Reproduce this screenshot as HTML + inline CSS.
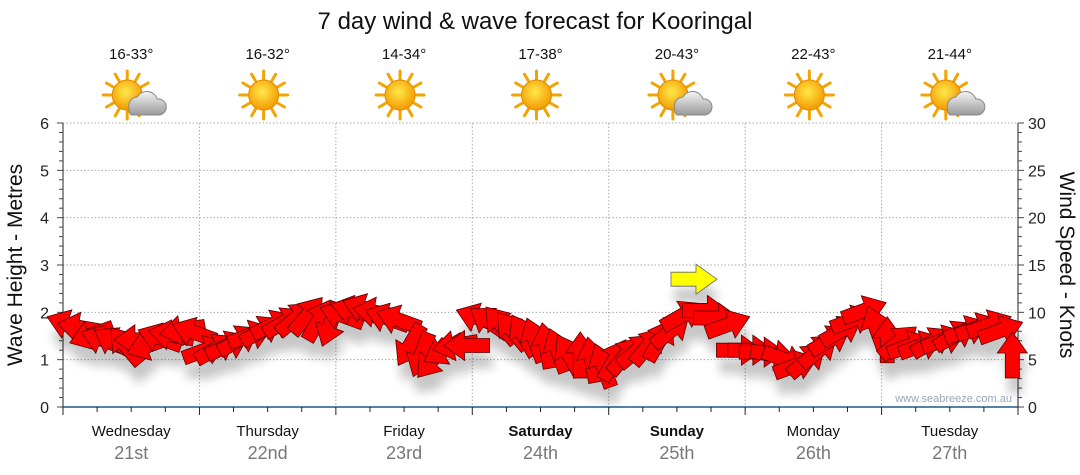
<!DOCTYPE html>
<html><head><meta charset="utf-8"><style>
body{margin:0;background:#fff;font-family:"Liberation Sans",sans-serif}
svg{display:block}
</style></head><body>
<svg id="c" width="1080" height="475" font-family="Liberation Sans, sans-serif">
<defs>
<filter id="sh" x="-50%" y="-50%" width="200%" height="200%"><feGaussianBlur stdDeviation="5"/></filter>
<radialGradient id="sun" cx="45%" cy="40%" r="60%"><stop offset="0" stop-color="#ffe94a"/><stop offset="1" stop-color="#f39a00"/></radialGradient>
<linearGradient id="cl" x1="0" y1="0" x2="0" y2="1"><stop offset="0" stop-color="#f4f4f4"/><stop offset="1" stop-color="#9a9a9a"/></linearGradient>
</defs>
<text x="535" y="29" font-size="24" text-anchor="middle" fill="#111">7 day wind &amp; wave forecast for Kooringal</text>
<g id="hdr"></g>
<g id="grid"></g>
<g id="axes"></g>
<g id="shadows" filter="url(#sh)" opacity="0.22"></g>
<g id="arrows"></g>
<text x="1012" y="402" font-size="11" fill="#9aa8b8" text-anchor="end">www.seabreeze.com.au</text>
<text transform="translate(22,265) rotate(-90)" font-size="21" text-anchor="middle" fill="#111">Wave Height - Metres</text>
<text transform="translate(1060,265) rotate(90)" font-size="21" text-anchor="middle" fill="#111">Wind Speed - Knots</text>
</svg>
<script>
const days=["Wednesday","Thursday","Friday","Saturday","Sunday","Monday","Tuesday"];
const dates=["21st","22nd","23rd","24th","25th","26th","27th"];
const temps=["16-33°","16-32°","14-34°","17-38°","20-43°","22-43°","21-44°"];
const cloudy=[1,0,0,0,1,0,1];
const bold=[0,0,0,1,1,0,0];
const waveTicks=[0,1,2,3,4,5,6];
const windTicks=[0,5,10,15,20,25,30];
const windSpeed=[8.7,8.4,7.6,7.1,6.9,6.5,7.1,6.5,7.3,7.6,8.1,7.9,
 6.0,6.2,6.5,7.1,7.6,8.1,8.7,9.0,9.4,9.7,9.2,8.7,
 9.7,10.2,10.4,10.0,9.4,9.2,6.5,5.5,5.0,6.0,6.5,6.5,
 9.4,9.0,8.7,8.1,7.6,7.1,6.5,6.0,5.5,5.5,5.0,4.4,
 5.0,5.5,6.0,6.5,7.1,8.1,9.7,13.5,10.2,9.4,8.7,6.0,
 6.0,5.8,5.5,5.0,4.4,5.0,6.0,7.1,8.1,9.2,10.2,8.4,
 7.1,6.9,6.5,6.5,6.9,7.1,7.6,8.1,8.4,8.7,8.1,5.5];
const windDir=[200,190,160,200,210,230,180,160,200,190,170,200,
 -20,-30,-25,-30,-20,-30,-25,-30,-40,-50,-60,110,
 200,195,200,190,200,200,120,110,130,150,170,180,
 200,215,230,230,240,250,260,250,240,270,260,250,
 -60,-50,-40,-50,-60,-40,-30,0,0,0,-20,0,
 0,0,10,20,-20,-40,-40,-30,-30,-20,-20,-110,
 -90,-40,-20,-20,-30,-20,-30,-20,-20,-20,-20,-90];
const yellow=55;
const X0=63,X1=1018,Y0=407,YT=123;
const xDay=i=>X0+i*(X1-X0)/7;
const yWave=v=>Y0-v*(Y0-YT)/6;
const yWind=v=>Y0-v*(Y0-YT)/30;
const xPt=i=>X0+(i+0.5)*(X1-X0)/windSpeed.length;
const NS="http://www.w3.org/2000/svg";
function mk(tag,parent,at){const e=document.createElementNS(NS,tag);for(const k in at)e.setAttribute(k,at[k]);document.getElementById(parent).appendChild(e);return e;}
for(let v=1;v<=6;v++){const l=mk('line','grid',{x1:X0,x2:X1,y1:yWave(v),y2:yWave(v),stroke:'#aaa','stroke-dasharray':'1.5,2'});

}
for(let d=1;d<7;d++){const l=mk('line','grid',{x1:xDay(d),x2:xDay(d),y1:YT,y2:Y0,stroke:'#aaa','stroke-dasharray':'1.5,2'});

}
mk('line','axes',{x1:X0,x2:X0,y1:YT,y2:Y0+8,stroke:'#222'});
mk('line','axes',{x1:X1,x2:X1,y1:YT,y2:Y0,stroke:'#222'});
mk('line','axes',{x1:X0,x2:X1,y1:Y0,y2:Y0,stroke:'#1a5a8a','stroke-width':1.5});
for(let k=0;k<=30;k++){const y=Y0-k*(Y0-YT)/30;
 mk('line','axes',{x1:X0-(k%5?4:6),x2:X0,y1:y,y2:y,stroke:'#444'});
 mk('line','axes',{x1:X1,x2:X1+(k%5?4:6),y1:y,y2:y,stroke:'#444'});}
waveTicks.forEach(v=>{const t=mk('text','axes',{x:X0-14,y:yWave(v)+6,'font-size':16,'text-anchor':'end',fill:'#222'});t.textContent=v;

});
windTicks.forEach(v=>{const t=mk('text','axes',{x:X1+10,y:yWind(v)+6,'font-size':16,fill:'#222'});t.textContent=v;

});
for(let q=0;q<=28;q++){const x=X0+q*(X1-X0)/28;mk('line','axes',{x1:x,x2:x,y1:Y0,y2:Y0+(q%4?5:8),stroke:'#222'});}
days.forEach((d,i)=>{const cx=(xDay(i)+xDay(i+1))/2;
 const t=mk('text','axes',{x:cx,y:436,'font-size':15,'text-anchor':'middle',fill:'#111','font-weight':bold[i]?'bold':'normal'});t.textContent=d;
 
 
 const t2=mk('text','axes',{x:cx,y:459,'font-size':18,'text-anchor':'middle',fill:'#777'});t2.textContent=dates[i];
 
 
 const t3=mk('text','hdr',{x:cx,y:59,'font-size':15,'text-anchor':'middle',fill:'#111'});t3.textContent=temps[i];
 
 
 const g=mk('g','hdr',{transform:`translate(${cx-4},95)`});
 
 
 for(let r=0;r<12;r++){const a=r*Math.PI/6;const p=document.createElementNS(NS,'line');
  p.setAttribute('x1',15*Math.cos(a));p.setAttribute('y1',15*Math.sin(a));p.setAttribute('x2',24*Math.cos(a));p.setAttribute('y2',24*Math.sin(a));
  p.setAttribute('stroke','#f3a400');p.setAttribute('stroke-width',3);p.setAttribute('stroke-linecap','round');g.appendChild(p);}
 const c=document.createElementNS(NS,'circle');c.setAttribute('r',15);c.setAttribute('fill','url(#sun)');c.setAttribute('stroke','#e08a00');g.appendChild(c);
 if(cloudy[i]){const cl=document.createElementNS(NS,'path');
  cl.setAttribute('d','M2,14 a9,9 0 0 1 8,-12 a11,11 0 0 1 20,2 a8,8 0 0 1 2,16 h-28 a6,6 0 0 1 -2,-6z');
  cl.setAttribute('fill','url(#cl)');cl.setAttribute('stroke','#888');g.appendChild(cl);}
});
const shape="M-23,-7 L2,-7 L2,-15 L23,0 L2,15 L2,7 L-23,7 Z";
windSpeed.forEach((s,i)=>{const x=xPt(i),y=yWind(s),a=windDir[i];
 const sh=mk('path','shadows',{d:shape,fill:'#000',transform:`translate(${x+3},${y+16}) rotate(${a})`});
 
 
});
windSpeed.forEach((s,i)=>{const x=xPt(i),y=yWind(s),a=windDir[i];
 const p=mk('path','arrows',{d:shape,fill:i===yellow?'#ffff00':'#ff0000',stroke:i===yellow?'#666':'#5a0000','stroke-width':0.8,transform:`translate(${x},${y}) rotate(${a})`});
 
 
});
</script>
</body></html>
